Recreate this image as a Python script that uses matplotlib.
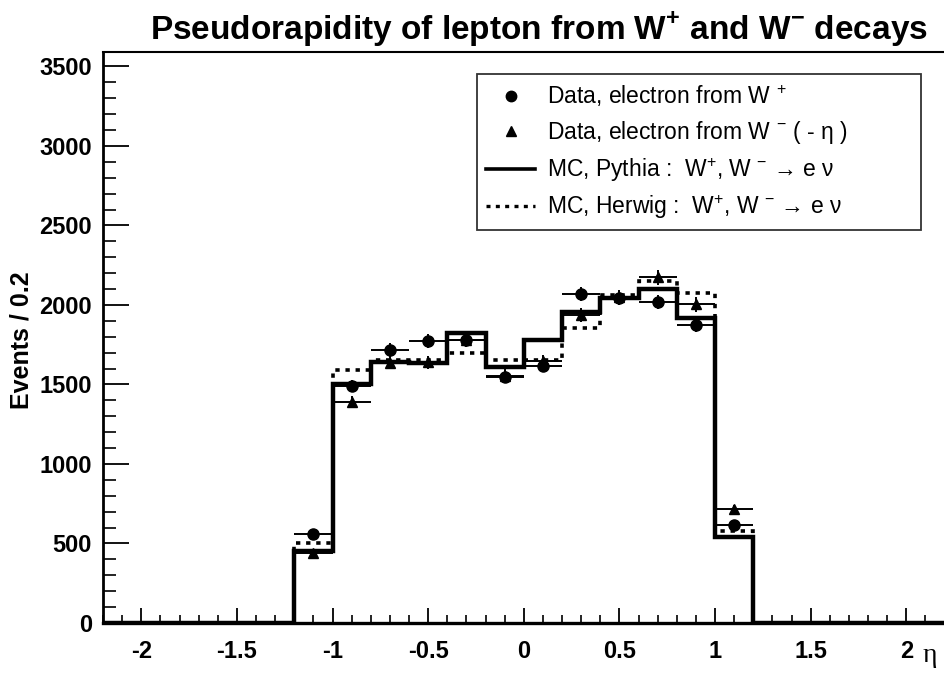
import numpy as np
import matplotlib
matplotlib.use("Agg")
import matplotlib.pyplot as plt
from matplotlib.lines import Line2D
from matplotlib.ticker import MultipleLocator

plt.rcParams['font.family'] = ['Liberation Sans', 'DejaVu Sans']
plt.rcParams['mathtext.fontset'] = 'custom'
plt.rcParams['mathtext.rm'] = 'Liberation Sans'
plt.rcParams['mathtext.bf'] = 'Liberation Sans:bold'

# eta bins of width 0.2 from -2.2 to 2.2
bin_lo, bin_hi, bin_w = -2.2, 2.2, 0.2

# MC histograms, events per bin (22 bins)
pythia = [0, 0, 0, 0, 0,
          455, 1505, 1643, 1638, 1826, 1612, 1780, 1956, 2045, 2100, 1917, 541,
          0, 0, 0, 0, 0]
herwig = [0, 0, 0, 0, 0,
          502, 1591, 1655, 1652, 1698, 1655, 1654, 1855, 2062, 2151, 2075, 580,
          0, 0, 0, 0, 0]

# data points at bin centres
data_eta = [-1.1, -0.9, -0.7, -0.5, -0.3, -0.1, 0.1, 0.3, 0.5, 0.7, 0.9, 1.1]
data_wplus = [562, 1492, 1717, 1773, 1780, 1550, 1616, 2069, 2044, 2020, 1872, 616]
data_wminus = [440, 1392, 1638, 1640, 1782, 1556, 1645, 1935, 2050, 2175, 2003, 717]

edges = np.round(np.arange(bin_lo, bin_hi + bin_w / 2, bin_w), 2)

fig = plt.figure(figsize=(9.45, 6.92), dpi=100)
ax = fig.add_axes([0.109, 0.0997, 0.8905, 0.825])

ax.stairs(herwig, edges, color='black', lw=2.6, linestyle=(0, (1.2, 1.6)), baseline=None)
ax.stairs(pythia, edges, color='black', lw=3.2, baseline=None)

ax.errorbar(data_eta, data_wminus, xerr=bin_w / 2, yerr=np.sqrt(data_wminus),
            fmt='^', color='black', ms=7.5, elinewidth=1.4, capsize=0, zorder=5)
ax.errorbar(data_eta, data_wplus, xerr=bin_w / 2, yerr=np.sqrt(data_wplus),
            fmt='o', color='black', ms=8, elinewidth=1.4, capsize=0, zorder=6)

ax.set_xlim(bin_lo, bin_hi)
ax.set_ylim(0, 3590)

ax.xaxis.set_major_locator(MultipleLocator(0.5))
ax.xaxis.set_minor_locator(MultipleLocator(0.1))
ax.yaxis.set_major_locator(MultipleLocator(500))
ax.yaxis.set_minor_locator(MultipleLocator(100))
ax.xaxis.set_major_formatter(plt.FuncFormatter(lambda v, p: f'{v:g}'))

ax.tick_params(axis='x', which='major', direction='in', length=11, width=1.3,
               labelsize=17, pad=12, top=False)
ax.tick_params(axis='x', which='minor', direction='in', length=5.5, width=1.2, top=False)
ax.tick_params(axis='y', which='major', direction='in', length=19, width=1.3,
               labelsize=17, pad=8, right=False)
ax.tick_params(axis='y', which='minor', direction='in', length=9, width=1.2, right=False)
for lab in ax.get_xticklabels() + ax.get_yticklabels():
    lab.set_fontweight('bold')

ax.spines['left'].set_linewidth(2.0)
ax.spines['bottom'].set_linewidth(2.4)
ax.spines['top'].set_linewidth(1.5)
ax.spines['right'].set_visible(False)

fig.text(539 / 945, 1 - 30 / 692,
         r'Pseudorapidity of lepton from W$^{\mathbf{+}}$ and W$^{\mathbf{-}}$ decays',
         ha='center', va='center', fontsize=24, fontweight='bold')
fig.text(22 / 945, 1 - 340 / 692, 'Events / 0.2', rotation=90, ha='center', va='center',
         fontsize=18, fontweight='bold')
fig.text(930 / 945, 1 - 655 / 692, '\u03b7', ha='center', va='center', fontsize=20,
         family=['Liberation Serif', 'DejaVu Serif'])

handles = [
    Line2D([], [], marker='o', color='black', ls='none', ms=7.5),
    Line2D([], [], marker='^', color='black', ls='none', ms=6.5),
    Line2D([], [], color='black', lw=2.6),
    Line2D([], [], color='black', lw=2.4, linestyle=(0, (1.2, 1.6))),
]
labels = [
    r'Data, electron from W $^{+}$',
    'Data, electron from W $^{-}$ ( - \u03b7 )',
    'MC, Pythia :  W$^{+}$, W $^{-}$ \u2192 e \u03bd',
    'MC, Herwig :  W$^{+}$, W $^{-}$ \u2192 e \u03bd',
]
leg = ax.legend(handles, labels, loc='upper left', mode='expand',
                bbox_to_anchor=(0.4448, 0.961 - 0.3, 0.5267, 0.3),
                fontsize=16.5, frameon=True, fancybox=False, edgecolor='black',
                handlelength=2.1, handletextpad=0.55, labelspacing=0.42,
                borderpad=0.4, borderaxespad=0)
leg.get_frame().set_linewidth(1.3)

fig.savefig('out.png', dpi=100)
